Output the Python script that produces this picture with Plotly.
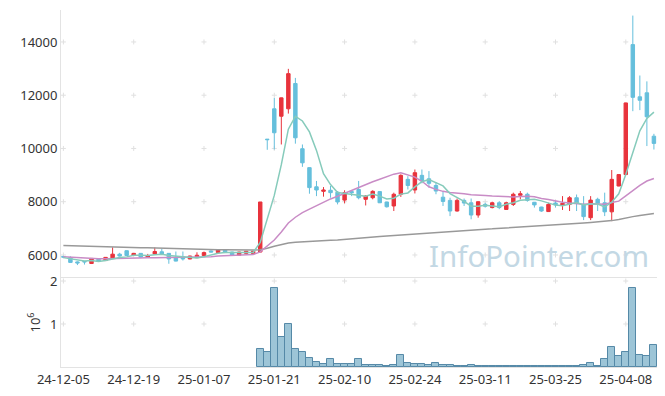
import plotly.graph_objects as go

dates = ["24-12-05","24-12-06","24-12-09","24-12-10","24-12-11","24-12-12","24-12-13","24-12-16","24-12-17","24-12-18",
         "24-12-19","24-12-20","24-12-23","24-12-24","24-12-26","24-12-27","24-12-30","25-01-02","25-01-03","25-01-06",
         "25-01-07","25-01-08","25-01-09","25-01-10","25-01-13","25-01-14","25-01-15","25-01-16","25-01-17","25-01-20",
         "25-01-21","25-01-22","25-01-23","25-01-24","25-01-31","25-02-03","25-02-04","25-02-05","25-02-06","25-02-07",
         "25-02-10","25-02-11","25-02-12","25-02-13","25-02-14","25-02-17","25-02-18","25-02-19","25-02-20","25-02-21",
         "25-02-24","25-02-25","25-02-26","25-02-27","25-02-28","25-03-04","25-03-05","25-03-06","25-03-07","25-03-10",
         "25-03-11","25-03-12","25-03-13","25-03-14","25-03-17","25-03-18","25-03-19","25-03-20","25-03-21","25-03-24",
         "25-03-25","25-03-26","25-03-27","25-03-28","25-03-31","25-04-01","25-04-02","25-04-03","25-04-04","25-04-07",
         "25-04-08","25-04-09","25-04-10","25-04-11","25-04-14"]

opens = [5940,5900,5740,5760,5680,5840,5790,5890,6030,6160,
         6000,6060,5920,6040,6120,6060,5910,5930,5850,5900,
         5980,6150,6090,6190,6110,5990,6060,6050,6110,10350,
         11490,11210,11490,12440,9990,9280,8560,8390,8430,8360,
         8060,8380,8460,8090,8150,8380,7990,7840,8280,8840,
         8440,8990,8860,8610,8170,8050,7650,8050,7960,7500,
         7900,7780,7960,7710,7900,8240,8280,7980,7800,7630,
         7950,7860,7900,8150,7900,7400,8090,7960,7620,8590,
         9020,13900,11940,12090,10460]
highs = [5970,5950,5760,5770,5880,5850,5920,6290,6080,6170,
         6070,6070,6040,6280,6230,6070,6130,6130,5970,6100,
         6130,6170,6200,6200,6120,6120,6150,6150,7990,10350,
         11900,11910,12990,12650,10150,9290,8780,8550,8590,8400,
         8430,8390,8780,8250,8430,8400,8000,8340,9030,8960,
         9210,9210,9150,8740,8400,8150,8120,8120,8120,8010,
         7960,8000,8020,8000,8340,8400,8340,7990,7810,7960,
         8030,8210,8210,8270,8210,8210,8150,8340,9190,9030,
         11720,14990,12740,12520,10550]
lows = [5880,5700,5620,5640,5660,5740,5780,5880,5940,5970,
        5960,5880,5900,6030,6030,5670,5760,5790,5840,5890,
        5970,6100,6080,6080,5980,5980,6040,6040,6100,9950,
        9960,10150,11310,10180,9310,8300,8210,8190,8150,7900,
        7940,8210,8090,7860,8090,7950,7780,7650,8180,8460,
        8310,8690,8530,8280,7840,7460,7630,7840,7340,7400,
        7780,7750,7720,7700,7840,8090,8000,7780,7620,7620,
        7780,7690,7650,7650,7310,7310,7650,7460,7270,8580,
        9010,11400,11440,10090,9960]
closes = [5920,5720,5700,5740,5870,5760,5910,6030,5960,5980,
          6060,5920,5970,6130,6040,5850,5770,5850,5960,5990,
          6090,6110,6190,6090,5990,6110,6140,6140,7990,10330,
          10590,11900,12810,10400,9460,8530,8440,8440,8340,7990,
          8340,8340,8150,8210,8390,7960,7810,8280,8990,8610,
          9090,8780,8690,8400,8010,7650,8050,7950,7500,8000,
          7830,7960,7780,7960,8280,8300,8050,7880,7650,7900,
          7880,7940,8150,7960,7440,8060,7940,7620,8840,9020,
          11710,11920,11810,11190,10190]

ma5 = [5900,5860,5810,5770,5790,5758,5796,5862,5906,5928,
       5988,5990,5978,6012,6024,5982,5952,5928,5894,5884,
       5932,6000,6068,6094,6094,6098,6104,6094,6474,7342,
       8238,9390,10724,11206,11032,10620,9928,9054,8642,8348,
       8310,8290,8232,8206,8286,8210,8104,8130,8286,8330,
       8556,8750,8832,8714,8594,8306,8160,8012,7832,7830,
       7866,7848,7814,7906,7962,8056,8074,8094,8032,7956,
       7872,7850,7904,7966,7874,7910,7910,7804,7980,8296,
       9026,9822,10660,11130,11364]
ma20 = [5930,5910,5890,5870,5860,5855,5860,5870,5875,5880,
        5885,5890,5895,5900,5905,5905,5900,5900,5905,5906,
        5915,5934,5959,5976,5982,6000,6011,6017,6118,6336,
        6562,6861,7203,7417,7588,7722,7855,7985,8104,8204,
        8316,8428,8526,8632,8752,8844,8928,9035,9085,8999,
        8924,8768,8562,8462,8389,8345,8326,8301,8259,8260,
        8234,8215,8197,8184,8179,8196,8208,8188,8121,8085,
        8025,7983,7956,7934,7905,7926,7920,7904,7971,8022,
        8216,8414,8615,8777,8872]
ma_long = [6360,6350,6345,6335,6330,6320,6315,6305,6300,6290,
           6285,6275,6270,6260,6255,6245,6240,6230,6225,6215,
           6210,6205,6200,6195,6190,6190,6185,6185,6200,6250,
           6330,6400,6450,6480,6500,6515,6530,6540,6555,6565,
           6590,6610,6630,6650,6670,6690,6710,6730,6755,6775,
           6795,6815,6830,6850,6865,6880,6900,6920,6945,6960,
           6970,6980,6995,7010,7025,7040,7055,7070,7085,7100,
           7115,7135,7160,7180,7200,7220,7240,7260,7290,7330,
           7390,7440,7480,7520,7560]

volume = [None]*28 + [430000,350000,1840000,700000,990000,430000,350000,200000,107000,76000,
                      176000,76000,76000,76000,176000,53000,53000,53000,30000,53000,
                      280000,100000,76000,76000,53000,100000,53000,53000,30000,30000,
                      53000,30000,15000,15000,15000,15000,30000,15000,30000,15000,
                      15000,15000,15000,30000,30000,30000,53000,100000,30000,176000,
                      470000,260000,350000,1840000,280000,260000,510000]

price_ticks = [6000, 8000, 10000, 12000, 14000]
vol_ticks = [1000000, 2000000]
vol_tick_text = ["1", "2"]
x_ticks = dates[::10]

fig = go.Figure()

fig.add_trace(go.Scatter(x=dates, y=ma_long, mode="lines", line=dict(color="#999999", width=1.5), showlegend=False, xaxis="x", yaxis="y"))
fig.add_trace(go.Scatter(x=dates, y=ma20, mode="lines", line=dict(color="#c98cc6", width=1.5), showlegend=False, xaxis="x", yaxis="y"))
fig.add_trace(go.Scatter(x=dates, y=ma5, mode="lines", line=dict(color="#86cbbb", width=1.5), showlegend=False, xaxis="x", yaxis="y"))

fig.add_trace(go.Candlestick(
    x=dates, open=opens, high=highs, low=lows, close=closes,
    increasing=dict(line=dict(color="#e8333c", width=1), fillcolor="#e8333c"),
    decreasing=dict(line=dict(color="#65bfdc", width=1), fillcolor="#65bfdc"),
    whiskerwidth=0, showlegend=False, xaxis="x", yaxis="y"))

fig.add_trace(go.Bar(x=dates, y=volume, width=1.0,
                     marker=dict(color="rgba(152,194,213,0.95)", line=dict(color="#5589a7", width=1)),
                     showlegend=False, xaxis="x", yaxis="y2"))

# faint "+" grid marks at tick intersections, drawn below the data
shapes = []
grid_col = "#e0e0e0"
for d in x_ticks:
    xi = dates.index(d)
    for yref, vals in (("y", price_ticks), ("y2", vol_ticks)):
        for v in vals:
            shapes.append(dict(type="line", layer="below", xref="x", yref=yref,
                               xsizemode="pixel", xanchor=xi, x0=-2.5, x1=2.5, y0=v, y1=v,
                               line=dict(color=grid_col, width=1)))
            shapes.append(dict(type="line", layer="below", xref="x", yref=yref,
                               ysizemode="pixel", yanchor=v, y0=-2.5, y1=2.5, x0=xi, x1=xi,
                               line=dict(color=grid_col, width=1)))

axis_line = "#e3e3e3"
tick_font = dict(family="Noto Sans", size=13, color="#333333")

fig.update_layout(
    width=657, height=388,
    margin=dict(l=53, r=8, t=2, b=29, autoexpand=False),
    paper_bgcolor="white", plot_bgcolor="white",
    bargap=0,
    shapes=shapes,
    xaxis=dict(type="category", categoryorder="array", categoryarray=dates,
               range=[-0.34, 84.44], rangeslider=dict(visible=False),
               tickmode="array", tickvals=x_ticks, ticktext=x_ticks, tickangle=0,
               showgrid=False, zeroline=False, showline=True, mirror=True, linecolor=axis_line,
               ticks="", tickfont=tick_font, anchor="y2"),
    yaxis=dict(domain=[0.2493, 1], range=[5135, 15200], tickvals=price_ticks,
               showgrid=False, zeroline=False, showline=True, mirror=True, linecolor=axis_line,
               ticks="", tickfont=tick_font, tickformat="d"),
    yaxis2=dict(domain=[0, 0.2493], range=[0, 2070000], tickvals=vol_ticks, ticktext=vol_tick_text,
                showgrid=False, zeroline=False, showline=True, mirror=True, linecolor=axis_line,
                ticks="", tickfont=tick_font,
                title=dict(text="10<sup>6</sup>", font=dict(family="Noto Sans", size=13, color="#333333"), standoff=6)),
    annotations=[dict(text="InfoPointer.com", xref="paper", yref="paper", x=0.99, y=0.311,
                      xanchor="right", yanchor="middle", showarrow=False,
                      font=dict(family="Noto Sans", size=29.5, color="#c3d8e4"))],
)

fig.write_html("out.html")
